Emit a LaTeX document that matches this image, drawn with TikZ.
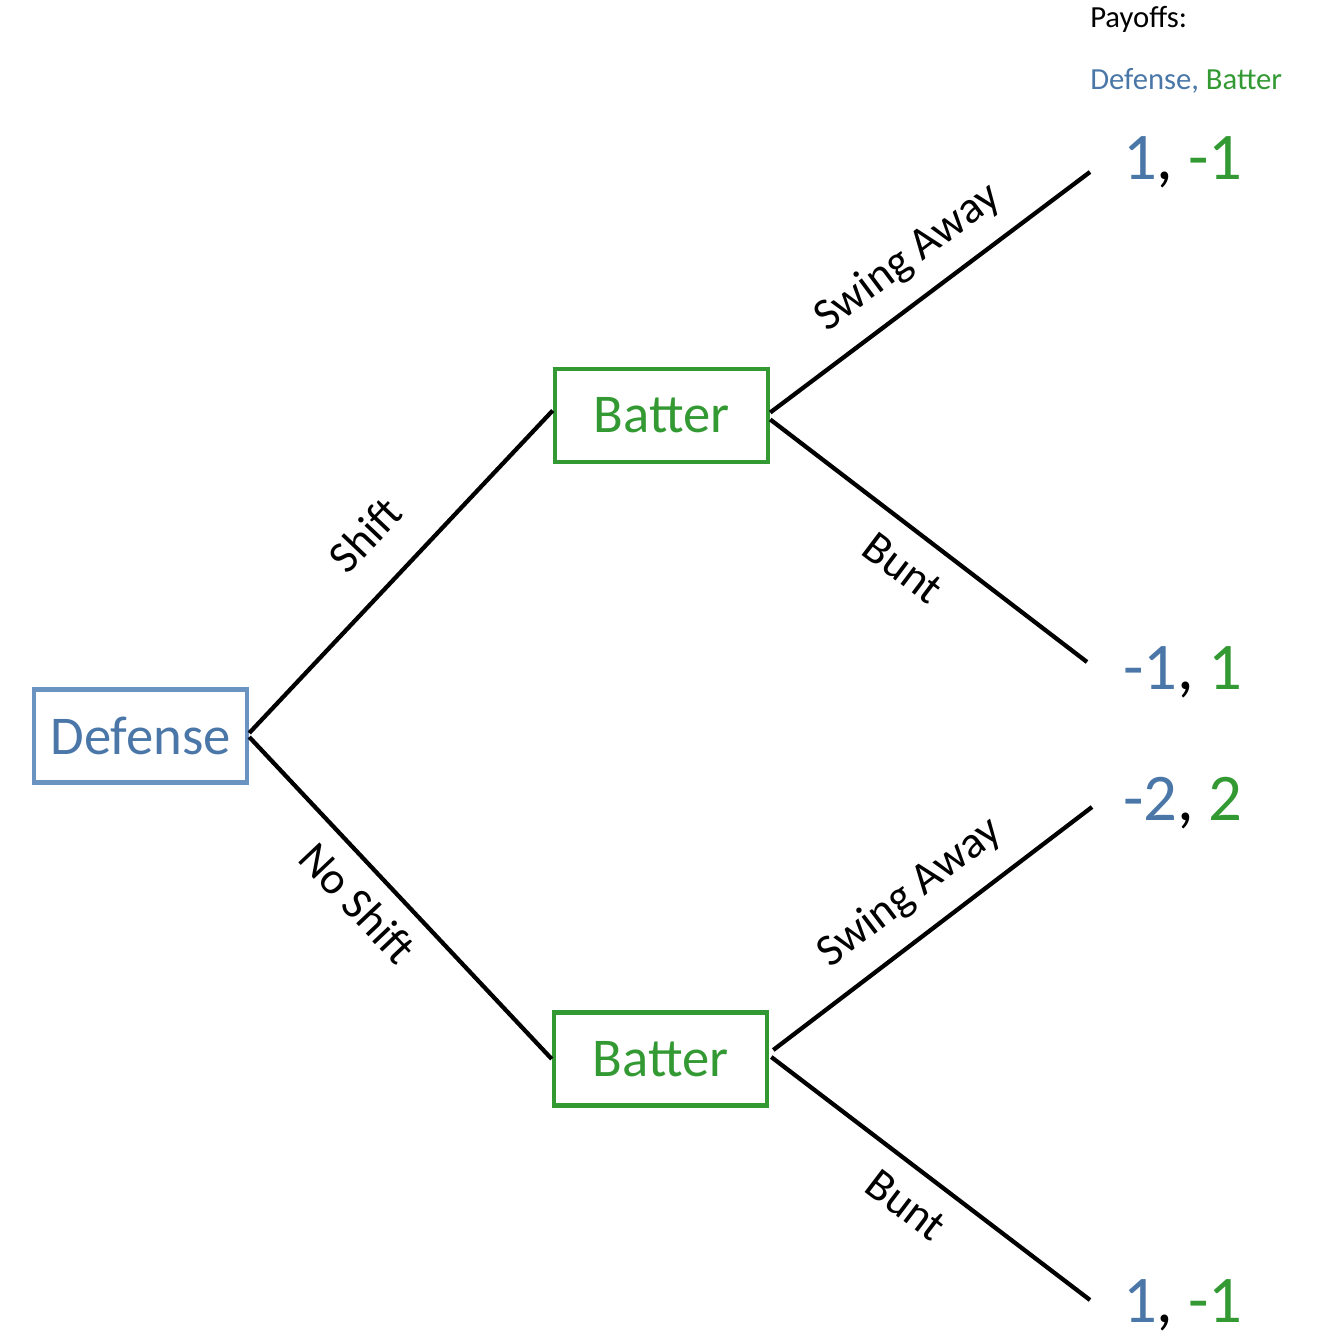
\documentclass[tikz,border=0pt]{standalone}
\usepackage{fontspec}
\setmainfont{Carlito}
\definecolor{defc}{HTML}{4A77A8}
\definecolor{defb}{HTML}{6A93C2}
\definecolor{batc}{HTML}{339933}
\begin{document}
\begin{tikzpicture}[x=0.75pt,y=-0.75pt,
  box/.style={draw,line width=3.4pt,minimum width=213*0.75pt,minimum height=93*0.75pt,inner sep=0pt,font=\fontsize{41}{48}\selectfont},
  br/.style={line width=3.2pt},
  lab/.style={font=\fontsize{34}{40}\selectfont,inner sep=0pt},
  pay/.style={font=\fontsize{50}{60}\selectfont,anchor=east,inner sep=0pt}]
\useasboundingbox (0,0) rectangle (1324,1337);
\node[box,draw=defb,text=defc] (d) at (140.5,736) {Defense};
\node[box,draw=batc,text=batc] (b1) at (661.5,415.5) {Batter};
\node[box,draw=batc,text=batc] (b2) at (660.5,1059) {Batter};
\coordinate (p1) at (1090,172);
\coordinate (p2) at (1087,662);
\coordinate (p3) at (1092,807);
\coordinate (p4) at (1090,1300);
\draw[br] ([yshift=3*0.75pt]d.east) -- ([yshift=5*0.75pt]b1.west);
\draw[br] ([yshift=-1*0.75pt]d.east) -- (b2.west);
\draw[br] ([yshift=3*0.75pt]b1.east) -- (p1);
\draw[br] ([yshift=-4*0.75pt]b1.east) -- (p2);
\draw[br] ([xshift=4*0.75pt,yshift=9*0.75pt]b2.east) -- (p3);
\draw[br] ([xshift=2*0.75pt,yshift=2*0.75pt]b2.east) -- (p4);
\node[lab,rotate=46.6] (l1) at (365,535) {Shift};
\node[lab,rotate=-46.6] (l2) at (358,903) {No Shift};
\node[lab,rotate=36.7] (l3) at (908,258) {Swing Away};
\node[lab,rotate=-37] (l4) at (903,568) {Bunt};
\node[lab,rotate=37.2] (l5) at (910,893) {Swing Away};
\node[lab,rotate=-37.2] (l6) at (906,1205) {Bunt};
\node[pay] (q1) at (1243,162) {\textcolor{defc}{1},\ \textcolor{batc}{-1}};
\node[pay] (q2) at (1243,672) {\textcolor{defc}{-1},\ \textcolor{batc}{1}};
\node[pay] (q3) at (1243,803) {\textcolor{defc}{-2},\ \textcolor{batc}{2}};
\node[pay] (q4) at (1243,1305) {\textcolor{defc}{1},\ \textcolor{batc}{-1}};
\node[anchor=west,inner sep=0pt,font=\fontsize{23}{27}\selectfont] (t1) at (1090,19) {Payoffs:};
\node[anchor=west,inner sep=0pt,font=\fontsize{23}{27}\selectfont] (t2) at (1090,81) {\textcolor{defc}{Defense,} \textcolor{batc}{Batter}};
\end{tikzpicture}
\end{document}
